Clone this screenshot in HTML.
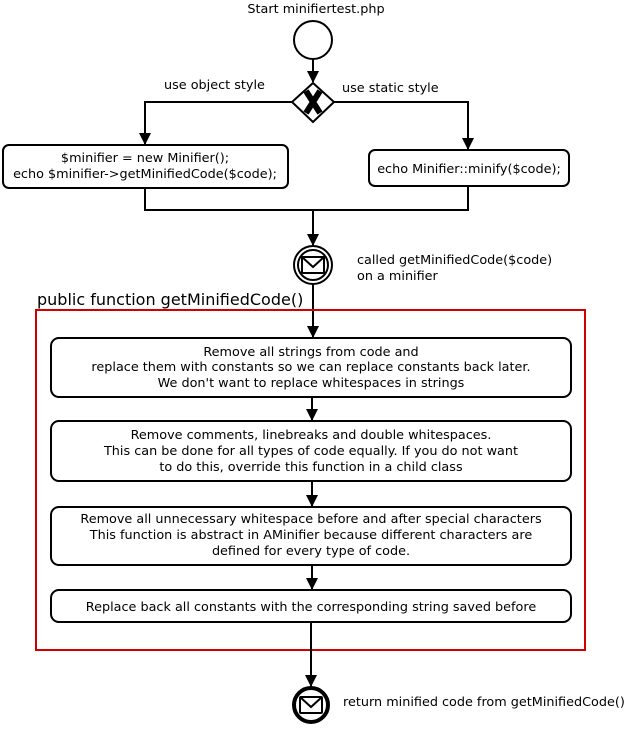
<!DOCTYPE html>
<html><head><style>body{margin:0;background:#fff}svg{display:block}text{font-family:"DejaVu Sans","Liberation Sans",sans-serif;font-size:12.8px;fill:#000}</style></head><body>
<svg width="631" height="729" viewBox="0 0 631 729" xmlns="http://www.w3.org/2000/svg">
<defs><marker id="a" markerWidth="12" markerHeight="12" refX="11" refY="6" orient="auto" markerUnits="userSpaceOnUse"><path d="M0,0 L12,6 L0,12 Z" fill="#000"/></marker></defs>
<g stroke="#000" stroke-width="2" fill="none">
<text x="316" y="13" text-anchor="middle" stroke="none">Start minifiertest.php</text>
<circle cx="313" cy="40" r="19" fill="#fff"/>
<line x1="313" y1="59" x2="313" y2="82" marker-end="url(#a)"/>
<path d="M313,83 L334,102 L313,122 L292,102 Z" fill="#fff"/>
<path d="M306,91 L320,113 M320,91 L306,113" stroke-width="6"/>
<polyline points="292,102 145,102 145,144" marker-end="url(#a)"/>
<polyline points="334,102 468,102 468,149" marker-end="url(#a)"/>
<rect x="3" y="145" width="285" height="43" rx="6" fill="#fff"/>
<rect x="369" y="150" width="200" height="36" rx="6" fill="#fff"/>
<polyline points="145,188 145,210 468,210 468,186"/>
<line x1="313" y1="210" x2="313" y2="245" marker-end="url(#a)"/>
<circle cx="313" cy="265" r="19" fill="#fff"/>
<circle cx="313" cy="265" r="15"/>
<rect x="302" y="257" width="22" height="16" rx="1"/>
<polyline points="302,257 313,267 324,257"/>
<line x1="313" y1="284" x2="313" y2="337" marker-end="url(#a)"/>
<rect x="36" y="310" width="549" height="340" stroke="#d00000"/>
<rect x="51" y="338" width="520" height="59" rx="8" fill="#fff"/>
<line x1="312" y1="397" x2="312" y2="420" marker-end="url(#a)"/>
<rect x="51" y="421" width="520" height="60" rx="8" fill="#fff"/>
<line x1="312" y1="481" x2="312" y2="506" marker-end="url(#a)"/>
<rect x="51" y="507" width="520" height="58" rx="8" fill="#fff"/>
<line x1="312" y1="565" x2="312" y2="589" marker-end="url(#a)"/>
<rect x="51" y="590" width="520" height="32" rx="8" fill="#fff"/>
<line x1="311" y1="622" x2="311" y2="686" marker-end="url(#a)"/>
<circle cx="311" cy="705" r="17" stroke-width="4" fill="#fff"/>
<rect x="300" y="697" width="22" height="16" rx="1"/>
<polyline points="300,697 311,707 322,697"/>
</g>
<text x="164" y="89">use object style</text>
<text x="342" y="92">use static style</text>
<text x="145" y="162" text-anchor="middle">$minifier = new Minifier();</text>
<text x="145" y="178" text-anchor="middle">echo $minifier-&gt;getMinifiedCode($code);</text>
<text x="469" y="173" text-anchor="middle">echo Minifier::minify($code);</text>
<text x="357" y="264">called getMinifiedCode($code)</text>
<text x="357" y="280">on a minifier</text>
<text x="37" y="305" style="font-size:16px">public function getMinifiedCode()</text>
<g text-anchor="middle">
<text x="311" y="356">Remove all strings from code and</text>
<text x="311" y="371">replace them with constants so we can replace constants back later.</text>
<text x="311" y="387">We don't want to replace whitespaces in strings</text>
<text x="311" y="439">Remove comments, linebreaks and double whitespaces.</text>
<text x="311" y="455">This can be done for all types of code equally. If you do not want</text>
<text x="311" y="471">to do this, override this function in a child class</text>
<text x="311" y="523">Remove all unnecessary whitespace before and after special characters</text>
<text x="311" y="539">This function is abstract in AMinifier because different characters are</text>
<text x="311" y="555">defined for every type of code.</text>
<text x="311" y="611">Replace back all constants with the corresponding string saved before</text>
</g>
<text x="343" y="706">return minified code from getMinifiedCode()</text>
</svg>
</body></html>
